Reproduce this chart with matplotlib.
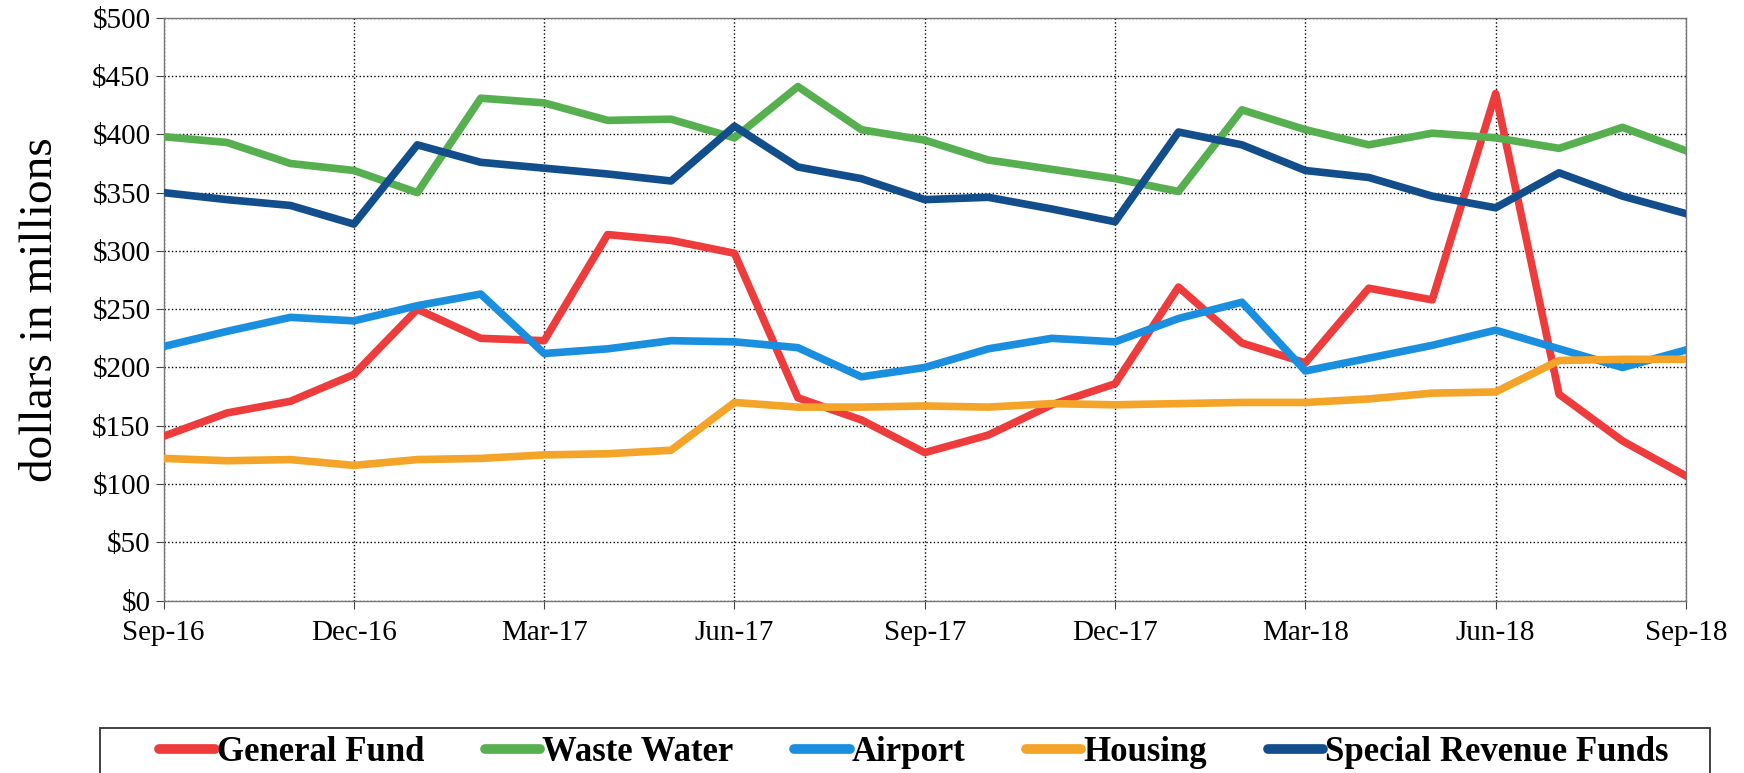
import matplotlib.pyplot as plt
import numpy as np


months = ['Sep-16', 'Oct-16', 'Nov-16', 'Dec-16', 'Jan-17', 'Feb-17', 'Mar-17',
          'Apr-17', 'May-17', 'Jun-17', 'Jul-17', 'Aug-17', 'Sep-17', 'Oct-17',
          'Nov-17', 'Dec-17', 'Jan-18', 'Feb-18', 'Mar-18', 'Apr-18', 'May-18',
          'Jun-18', 'Jul-18', 'Aug-18', 'Sep-18']

general_fund = [141, 161, 171, 194, 250, 225, 223, 314, 309, 298, 174, 155, 127,
                142, 168, 186, 269, 221, 204, 268, 258, 435, 177, 137, 107]
waste_water = [398, 393, 375, 369, 350, 431, 427, 412, 413, 397, 441, 404, 395,
               378, 370, 362, 351, 421, 404, 391, 401, 397, 388, 406, 386]
airport = [218, 231, 243, 240, 253, 263, 212, 216, 223, 222, 217, 192, 200,
           216, 225, 222, 242, 256, 197, 208, 219, 232, 216, 200, 215]
housing = [122, 120, 121, 116, 121, 122, 125, 126, 129, 170, 166, 166, 167,
           166, 169, 168, 169, 170, 170, 173, 178, 179, 206, 207, 207]
special_revenue = [350, 344, 339, 323, 391, 376, 371, 366, 360, 407, 372, 362, 344,
                   346, 336, 325, 402, 391, 369, 363, 347, 337, 367, 347, 332]

plt.rcParams['font.family'] = ['Liberation Serif', 'DejaVu Serif']

fig = plt.figure(figsize=(17.44, 7.73), dpi=100)
ax = fig.add_axes([0.0938, 0.223, 0.8729, 0.754])

x = np.arange(len(months))
lw = 5.5
ax.plot(x, general_fund, color='#ee3b3b', lw=lw, label='General Fund', zorder=3)
ax.plot(x, waste_water, color='#57b050', lw=lw, label='Waste Water', zorder=3)
ax.plot(x, airport, color='#1a8fe0', lw=lw, label='Airport', zorder=3)
ax.plot(x, housing, color='#f5a42a', lw=lw, label='Housing', zorder=3)
ax.plot(x, special_revenue, color='#134e8c', lw=lw, label='Special Revenue Funds', zorder=3)

ax.set_xlim(0, len(months) - 1)
ax.set_ylim(0, 500)
ax.set_xticks(x[::3])
ax.set_xticklabels(months[::3])
ax.set_yticks(np.arange(0, 501, 50))
ax.set_yticklabels(['$' + str(v) for v in range(0, 501, 50)])
ax.tick_params(axis='both', labelsize=21, direction='out', length=6, color='#444444')
ax.tick_params(axis='x', pad=8)
ax.grid(True, color='black', linestyle=':', linewidth=1.0, zorder=0)
for s in ax.spines.values():
    s.set_color('#777777')
    s.set_linewidth(1.0)

ax.set_ylabel('dollars in millions', fontsize=34, labelpad=22)

# legend box drawn separately so it is wider than its entries
box = plt.Rectangle((0.0573, -0.05), 0.9232, 0.1076, transform=fig.transFigure,
                    fill=False, edgecolor='#333333', linewidth=1.3)
fig.patches.append(box)

leg = fig.legend(loc='center', bbox_to_anchor=(0.524, 0.026), ncol=5, frameon=False,
                 handlelength=1.6, prop={'weight': 'bold', 'size': 25},
                 borderpad=0.0, handletextpad=0.05, columnspacing=1.75)
for h in leg.get_lines():
    h.set_linewidth(7)
    h.set_solid_capstyle('round')

plt.savefig('out.png', dpi=100)
